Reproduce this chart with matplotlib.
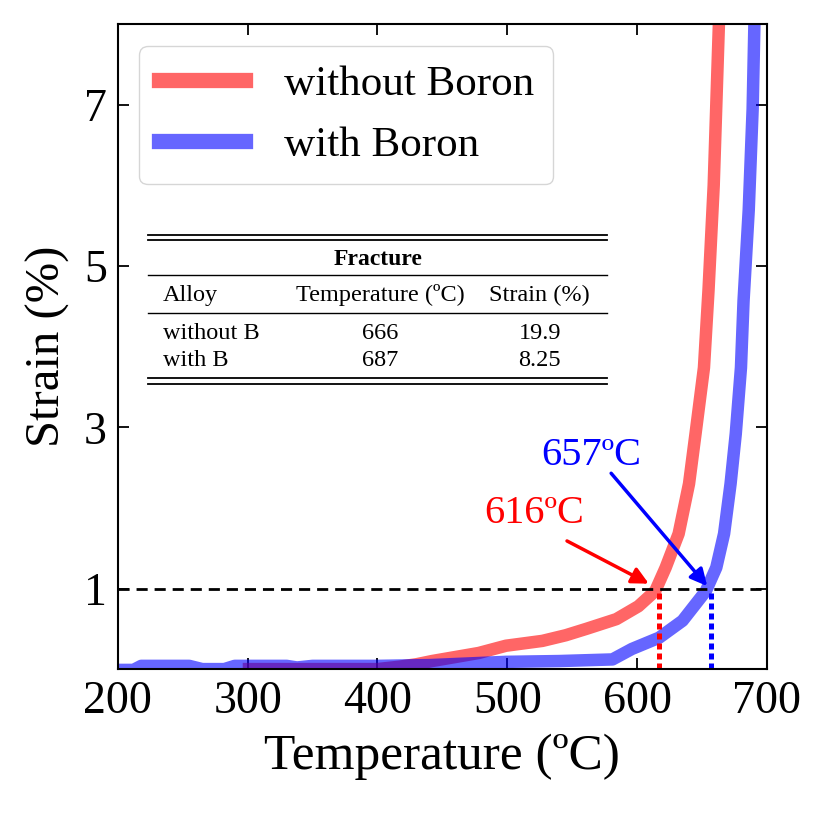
import matplotlib
matplotlib.use("Agg")
import matplotlib.pyplot as plt
from matplotlib.lines import Line2D

plt.rcParams['font.family'] = ['Liberation Serif', 'DejaVu Serif']

# curves
temp_nob = [301, 350, 400, 417, 430, 442, 460, 478, 499, 527, 545, 561, 584,
            601, 614, 622, 632, 640, 645, 651.5, 655, 659, 661, 664]
strain_nob = [0.0, 0.0, 0.0, 0.03, 0.06, 0.1, 0.15, 0.2, 0.29, 0.35, 0.42,
              0.5, 0.62, 0.78, 0.97, 1.26, 1.68, 2.3, 2.92, 3.74, 4.7, 6.0,
              7.0, 8.5]

temp_b = [200, 212, 218, 255, 265, 282, 290, 330, 338, 350, 400, 441, 499,
          540, 581, 596, 617, 635, 653, 661, 667, 672, 676, 680, 682, 686,
          689, 691]
strain_b = [-0.01, -0.01, 0.04, 0.04, 0.0, 0.0, 0.04, 0.04, 0.02, 0.04, 0.04,
            0.05, 0.09, 0.1, 0.12, 0.25, 0.39, 0.6, 0.97, 1.26, 1.68, 2.3,
            2.92, 3.74, 4.57, 5.7, 6.95, 8.5]

onset_nob = 617
onset_b = 657
onset_labels = ['616ºC', '657ºC']

table_header = ['Alloy', 'Temperature (ºC)', 'Strain (%)']
table_rows = [['without B', '666', '19.9'],
              ['with B', '687', '8.25']]

fig = plt.figure(figsize=(8.30, 8.13), dpi=100)
ax = fig.add_axes([0.142, 0.177, 0.782, 0.793])

ax.plot(temp_nob, strain_nob, color='red', alpha=0.6, lw=9,
        solid_joinstyle='round', label='without Boron')
ax.plot(temp_b, strain_b, color='blue', alpha=0.6, lw=9,
        solid_joinstyle='round', label='with Boron')

ax.axhline(1, color='k', ls=(0, (4, 2.5)), lw=2)
ax.plot([onset_nob, onset_nob], [0, 1], color='red', lw=3.6, ls=(0, (1.2, 0.8)))
ax.plot([onset_b, onset_b], [0, 1], color='blue', lw=3.6, ls=(0, (1.2, 0.8)))

ax.text(521, 1.93, onset_labels[0], color='red', fontsize=29, ha='center', va='center')
ax.annotate('', xy=(609, 1.06), xytext=(546, 1.59),
            arrowprops=dict(arrowstyle='-|>', color='red', lw=2.5, mutation_scale=25,
                            shrinkA=0, shrinkB=0))
ax.text(565, 2.65, onset_labels[1], color='blue', fontsize=29, ha='center', va='center')
ax.annotate('', xy=(654, 1.03), xytext=(580, 2.43),
            arrowprops=dict(arrowstyle='-|>', color='blue', lw=2.5, mutation_scale=25,
                            shrinkA=0, shrinkB=0))

ax.set_xlim(200, 700)
ax.set_ylim(0, 8)
ax.set_xticks([200, 300, 400, 500, 600, 700])
ax.set_yticks([1, 3, 5, 7])
ax.tick_params(direction='in', length=8, width=1.3, top=True, right=True,
               labelsize=33, pad=8)
for s in ax.spines.values():
    s.set_linewidth(1.5)
ax.set_xlabel('Temperature (ºC)', fontsize=37, labelpad=8)
ax.set_ylabel('Strain (%)', fontsize=35, labelpad=10)

leg = ax.legend(loc='upper left', fontsize=31, borderaxespad=0.5,
                handlelength=2.0, borderpad=0.45, labelspacing=0.5,
                handletextpad=0.9)
for h in leg.get_lines():
    h.set_linewidth(11)

# inset table
tr = ax.transAxes
x0, x1 = 0.046, 0.754
for y in [0.674, 0.665, 0.611, 0.553, 0.451, 0.442]:
    lw = 1.3 if y in (0.674, 0.665, 0.451, 0.442) else 1.0
    ax.add_line(Line2D([x0, x1], [y, y], transform=tr, color='k', lw=lw))
ax.text(0.401, 0.636, 'Fracture', transform=tr, fontsize=17, fontweight='bold',
        ha='center', va='center')
col_x = [0.069, 0.404, 0.650]
col_ha = ['left', 'center', 'center']
for j, txt in enumerate(table_header):
    ax.text(col_x[j], 0.580, txt, transform=tr, fontsize=17.5, ha=col_ha[j], va='center')
for i, row in enumerate(table_rows):
    yy = [0.521, 0.479][i]
    for j, txt in enumerate(row):
        ax.text(col_x[j], yy, txt, transform=tr, fontsize=17.5, ha=col_ha[j], va='center')

fig.savefig('out.png', dpi=100)
